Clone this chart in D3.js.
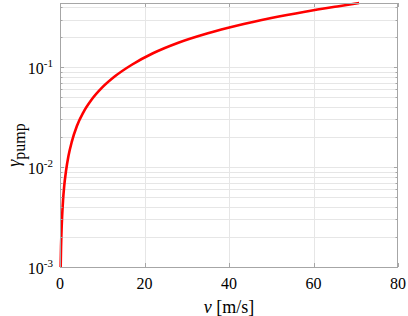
<!DOCTYPE html>
<html>
<head>
<meta charset="utf-8">
<script src="https://cdn.jsdelivr.net/npm/d3@7"></script>
</head>
<body style="margin:0">
<svg id="chart" width="408" height="316"></svg>
<script>
// values
const speed = [0.16, 0.25, 0.33, 0.5, 0.71, 1, 1.4, 2, 2.8, 4, 5.5, 7.5, 10, 13, 17, 22, 28, 35, 42, 50, 58, 66, 70.8];
const gammaPump = [0.001, 0.0016, 0.0021, 0.0032, 0.0046, 0.0065, 0.009, 0.0129, 0.018, 0.0258, 0.0352, 0.0475, 0.0628, 0.0812, 0.106, 0.138, 0.176, 0.219, 0.262, 0.311, 0.36, 0.409, 0.44];
const xTicks = [0, 20, 40, 60, 80];
const yTicks = [1e-3, 1e-2, 1e-1];

const width = 408;
const height = 316;
const marginTop = 3;
const marginRight = 10;
const marginBottom = 49;
const marginLeft = 60;
const serif = '"Liberation Serif"';

const svg = d3.select('#chart');

const x = d3.scaleLinear()
  .domain([0, 80])
  .range([marginLeft, width - marginRight]);

const y = d3.scaleLog()
  .domain([1e-3, d3.max(gammaPump)])
  .range([height - marginBottom, marginTop]);

// minor log positions inside the domain
const minor = [];
for (let e = -3; e <= -1; e++) {
  for (let k = 1; k <= 9; k++) {
    const v = k * Math.pow(10, e);
    if (v >= y.domain()[0] && v <= y.domain()[1]) minor.push(v);
  }
}

const x0 = marginLeft, x1 = width - marginRight;
const y0 = height - marginBottom, y1 = marginTop;

// grid
const grid = svg.append('g').attr('stroke', '#e6e6e6').attr('stroke-width', 1);
grid.selectAll('line.gy')
  .data(minor)
  .join('line')
  .attr('x1', x0).attr('x2', x1)
  .attr('y1', d => Math.round(y(d)) + 0.5)
  .attr('y2', d => Math.round(y(d)) + 0.5);
grid.selectAll('line.gx')
  .data(xTicks.slice(1, -1))
  .join('line')
  .attr('y1', y0).attr('y2', y1)
  .attr('x1', d => Math.round(x(d)) + 0.5)
  .attr('x2', d => Math.round(x(d)) + 0.5);

// the curve
svg.append('path')
  .datum(speed.map((v, i) => [v, gammaPump[i]]))
  .attr('fill', 'none')
  .attr('stroke', '#ff0000')
  .attr('stroke-width', 2.6)
  .attr('stroke-linejoin', 'round')
  .attr('d', d3.line().x(d => x(d[0])).y(d => y(d[1])).curve(d3.curveMonotoneX));

// box and ticks
const box = svg.append('g').attr('stroke', '#a6a6a6').attr('fill', 'none');
box.append('rect')
  .attr('x', x0 + 0.5).attr('y', y1 + 0.5)
  .attr('width', x1 - x0 - 1).attr('height', y0 - y1);

const tickLen = 4;
box.selectAll('line.tx')
  .data(xTicks.flatMap(d => [[d, y0, -tickLen], [d, y1, tickLen]]))
  .join('line')
  .attr('x1', d => Math.round(x(d[0])) + 0.5).attr('x2', d => Math.round(x(d[0])) + 0.5)
  .attr('y1', d => d[1]).attr('y2', d => d[1] + d[2]);
box.selectAll('line.ty')
  .data(minor.flatMap(d => {
    const len = yTicks.includes(d) ? tickLen : 2.5;
    return [[d, x0, len], [d, x1, -len]];
  }))
  .join('line')
  .attr('y1', d => Math.round(y(d[0])) + 0.5).attr('y2', d => Math.round(y(d[0])) + 0.5)
  .attr('x1', d => d[1]).attr('x2', d => d[1] + d[2]);

// tick labels
svg.selectAll('text.xtick')
  .data(xTicks)
  .join('text')
  .attr('class', 'xtick')
  .style('font-family', serif)
  .style('font-size', '16px')
  .attr('text-anchor', 'middle')
  .attr('x', d => x(d))
  .attr('y', y0 + 22)
  .text(d => d);

const yl = svg.selectAll('text.ytick')
  .data(yTicks)
  .join('text')
  .attr('class', 'ytick')
  .style('font-family', serif)
  .style('font-size', '16px')
  .attr('text-anchor', 'end')
  .attr('x', 53)
  .attr('y', d => y(d) + 7);
yl.append('tspan').text('10');
yl.append('tspan')
  .style('font-size', '11px')
  .attr('dy', -7)
  .text(d => String(Math.round(Math.log10(d))));

// axis titles
const xt = svg.append('text')
  .style('font-family', serif)
  .style('font-size', '18px')
  .attr('text-anchor', 'middle')
  .attr('x', x(40))
  .attr('y', 313);
xt.append('tspan').style('font-style', 'italic').text('v');
xt.append('tspan').text(' [m/s]');

const ytl = svg.append('text')
  .style('font-family', serif)
  .style('font-size', '18px')
  .attr('text-anchor', 'middle')
  .attr('transform', `translate(20,${(y0 + y1) / 2 + 10}) rotate(-90)`);
ytl.append('tspan').style('font-style', 'italic').text('γ');
ytl.append('tspan').style('font-size', '16px').attr('dy', 5).text('pump');
</script>
</body>
</html>
